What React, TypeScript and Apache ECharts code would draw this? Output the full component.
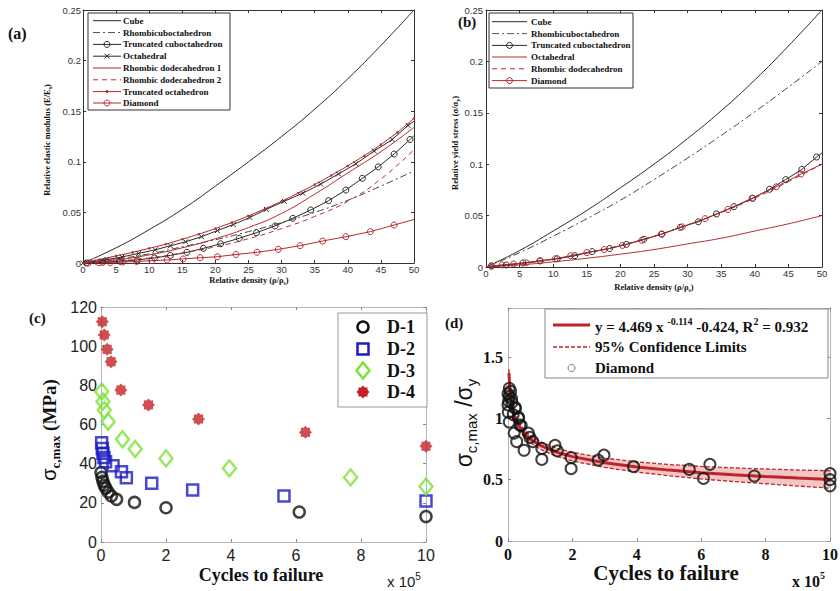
import React, { useEffect, useRef } from "react";
import * as echarts from "echarts";

const SERIF = '"Liberation Serif", "Times New Roman", serif';
const SANS = '"Liberation Sans", Arial, sans-serif';
const RED = "#b82a2e";
const BLACK = "#2a2a2a";

// ---------- Panel (a): relative elastic modulus ----------
const aGridX = [0, 5, 10, 15, 20, 25, 30, 35, 40, 45, 50];
const aCube = [0, 0.015, 0.033, 0.053, 0.076, 0.1, 0.125, 0.152, 0.182, 0.215, 0.25];
const aRhombicubo = [0, 0.004, 0.009, 0.016, 0.023, 0.031, 0.04, 0.05, 0.062, 0.076, 0.091];
const aRhombicDodec1 = [0, 0.003, 0.008, 0.015, 0.024, 0.035, 0.049, 0.068, 0.089, 0.11, 0.134];
const aRhombicDodec2 = [0, 0.002, 0.005, 0.01, 0.016, 0.024, 0.034, 0.046, 0.061, 0.083, 0.112];
const aTruncCuboX = [0.5, 3.0, 5.6, 8.2, 10.8, 13.2, 15.7, 18.2, 20.8, 23.6, 26.2, 29.0, 31.7, 34.4, 37.1, 39.7, 42.2, 44.6, 47.0, 49.4, 50];
const aTruncCuboY = [0, 0.0007, 0.0017, 0.003, 0.005, 0.0075, 0.0105, 0.0145, 0.019, 0.0244, 0.03, 0.0366, 0.0442, 0.0524, 0.0616, 0.0721, 0.0837, 0.095, 0.1077, 0.122, 0.126];
const aOctaX = [0, 1.5, 3.6, 5.9, 8.4, 10.9, 13.2, 15.5, 17.9, 20.3, 22.7, 25.2, 27.7, 30.4, 33.2, 35.9, 38.6, 41.2, 44.0, 46.7, 49.1, 50];
const aOctaY = [0, 0.001, 0.0035, 0.006, 0.0095, 0.013, 0.017, 0.021, 0.026, 0.032, 0.038, 0.045, 0.053, 0.061, 0.069, 0.078, 0.088, 0.098, 0.1107, 0.122, 0.136, 0.14];
const aTruncOctaX = [0, 2.5, 5, 7.5, 10, 12.5, 15, 17.5, 20, 22.5, 25, 27.5, 30, 32.5, 35, 37.5, 40, 42.5, 45, 47.5, 50];
const aTruncOctaY = [0, 0.0035, 0.007, 0.0105, 0.0145, 0.0185, 0.0235, 0.0285, 0.034, 0.04, 0.0465, 0.0535, 0.061, 0.069, 0.0775, 0.0865, 0.096, 0.106, 0.117, 0.129, 0.143];
const aDiamondX = [0.8, 2.4, 4.1, 6.0, 8.1, 10.4, 12.7, 15.1, 17.7, 20.3, 23.1, 26.3, 29.5, 32.8, 36.2, 39.7, 43.4, 47.0, 50];
const aDiamondY = [0, 0.0002, 0.0005, 0.001, 0.0015, 0.0023, 0.003, 0.004, 0.0052, 0.0062, 0.0084, 0.0106, 0.0135, 0.0171, 0.0217, 0.026, 0.031, 0.0375, 0.043];

// ---------- Panel (b): relative yield stress ----------
const bGridX = [0, 5, 10, 15, 20, 25, 30, 35, 40, 45, 50];
const bCube = [0, 0.016, 0.035, 0.055, 0.077, 0.1, 0.125, 0.152, 0.182, 0.215, 0.25];
const bRhombicubo = [0, 0.014, 0.03, 0.047, 0.065, 0.085, 0.106, 0.128, 0.151, 0.175, 0.2];
const bOcta = [0, 0.002, 0.005, 0.0085, 0.0125, 0.017, 0.0225, 0.028, 0.035, 0.042, 0.05];
const bRhombicDodec = [0, 0.003, 0.0075, 0.0135, 0.021, 0.03, 0.041, 0.053, 0.067, 0.083, 0.1];
const bTruncCuboX = [0.8, 3.0, 5.5, 8.0, 10.6, 13.2, 15.8, 18.4, 20.9, 23.5, 26.2, 28.9, 31.6, 34.3, 36.9, 39.7, 42.2, 44.6, 47.0, 49.2, 50];
const bTruncCuboY = [0.001, 0.002, 0.004, 0.006, 0.008, 0.011, 0.015, 0.018, 0.022, 0.027, 0.032, 0.0386, 0.044, 0.0516, 0.0587, 0.0668, 0.0756, 0.085, 0.095, 0.107, 0.111];
const bDiamondX = [0.8, 2.4, 4.1, 6.0, 8.1, 10.3, 12.6, 15.0, 17.6, 20.3, 23.2, 26.1, 29.2, 32.6, 36.0, 39.6, 43.2, 46.9, 50];
const bDiamondY = [0.001, 0.002, 0.003, 0.004, 0.006, 0.008, 0.011, 0.014, 0.017, 0.021, 0.026, 0.032, 0.039, 0.047, 0.056, 0.067, 0.078, 0.0905, 0.1];

// ---------- Panel (c): sigma_c,max vs cycles (x 1e5) ----------
const d1X = [0.0, 0.03, 0.06, 0.1, 0.15, 0.22, 0.32, 0.48, 1.03, 2.0, 6.1, 10];
const d1Y = [35.5, 33, 31, 29, 27.5, 25.5, 23.5, 21.8, 20.2, 17.5, 15.3, 13];
const d2X = [0.02, 0.04, 0.06, 0.09, 0.14, 0.37, 0.63, 0.78, 1.56, 2.82, 5.63, 10];
const d2Y = [50.7, 47.8, 45.3, 43.1, 41, 39, 35.9, 32.8, 30, 26.6, 23.5, 20.9];
const d3X = [0.02, 0.06, 0.1, 0.22, 0.66, 1.05, 2.0, 3.95, 7.68, 10];
const d3Y = [76.8, 71.7, 67.4, 61.4, 52.5, 47.5, 42.7, 37.6, 33, 28.3];
const d4X = [0.04, 0.1, 0.19, 0.31, 0.61, 1.46, 3.0, 6.29, 10];
const d4Y = [112.5, 105.7, 98.4, 92.1, 77.6, 70, 62.8, 56, 48.9];

// ---------- Panel (d): normalised stress vs cycles (x 1e5) ----------
const fitX = [0.03, 0.05, 0.1, 0.2, 0.3, 0.5, 0.7, 1, 1.5, 2, 3, 4, 5, 6, 7, 8, 9, 10];
const fitY = [1.37, 1.27, 1.14, 1.02, 0.956, 0.878, 0.829, 0.779, 0.725, 0.688, 0.638, 0.604, 0.578, 0.557, 0.54, 0.526, 0.513, 0.502];
const ciUpper = [1.4, 1.3, 1.17, 1.05, 0.985, 0.907, 0.858, 0.81, 0.758, 0.723, 0.676, 0.645, 0.624, 0.608, 0.596, 0.587, 0.579, 0.573];
const ciLower = [1.34, 1.24, 1.11, 0.99, 0.927, 0.849, 0.8, 0.748, 0.692, 0.653, 0.6, 0.562, 0.532, 0.506, 0.485, 0.467, 0.448, 0.431];
const diaX = [0.04, 0.0, 0.04, 0.08, 0.11, 0.02, 0.12, 0.22, 0.0, 0.01, 0.16, 0.23, 0.32, 0.33, 0.04, 0.37, 0.41, 0.19, 0.27, 0.63, 0.68, 0.77, 0.5, 1.05, 1.05, 1.46, 1.53, 1.96, 1.96, 2.8, 2.98, 3.9, 5.63, 6.07, 6.27, 7.65, 10, 10, 10];
const diaY = [1.245, 1.2, 1.18, 1.22, 1.16, 1.14, 1.13, 1.09, 1.11, 1.05, 1.03, 1.08, 1.01, 1.0, 0.97, 0.945, 0.94, 0.88, 0.81, 0.88, 0.845, 0.81, 0.74, 0.755, 0.665, 0.78, 0.735, 0.68, 0.59, 0.66, 0.7, 0.606, 0.584, 0.51, 0.625, 0.53, 0.55, 0.5, 0.45];

const pts = (xs: number[], ys: number[]) => xs.map((x, i) => [x, ys[i]]);
const ptsNoLastSymbol = (xs: number[], ys: number[]) =>
  xs.map((x, i) => (i === xs.length - 1 ? { value: [x, ys[i]], symbol: "none" } : [x, ys[i]]));

const xSymbol = "path://M0,0L10,10M0,10L10,0";
const starPts = (cx: number, cy: number, R: number, r: number) => {
  const out: number[][] = [];
  for (let i = 0; i < 16; i++) {
    const rad = i % 2 === 0 ? R : r;
    const a = (Math.PI * i) / 8 - Math.PI / 2;
    out.push([cx + rad * Math.cos(a), cy + rad * Math.sin(a)]);
  }
  return out;
};
const starSymbol = "path://M" + starPts(10, 10, 10, 7.5).map((p) => p[0].toFixed(2) + "," + p[1].toFixed(2)).join("L") + "Z";

function axisPair(gridIndex: number, dim: "x" | "y", min: number, max: number, interval: number, o: any) {
  const base = {
    type: "value",
    gridIndex,
    min,
    max,
    interval,
    splitLine: { show: false },
    axisLine: { show: true, onZero: false, lineStyle: { color: o.lineColor, width: 1 } },
    axisTick: { show: true, inside: true, length: 3, lineStyle: { color: o.tickColor } },
  };
  const main = {
    ...base,
    position: dim === "x" ? "bottom" : "left",
    axisLabel: {
      show: true,
      margin: o.margin,
      fontFamily: o.font,
      fontSize: o.fontSize,
      fontWeight: o.fontWeight || "normal",
      color: o.labelColor,
      formatter: o.formatter,
    },
  };
  const mirror = {
    ...base,
    position: dim === "x" ? "top" : "right",
    axisLabel: { show: false },
  };
  return [main, mirror];
}

const abAxis = { lineColor: "#333", tickColor: "#333", font: SANS, fontSize: 9.5, labelColor: "#333", margin: 1 };
const cAxis = { lineColor: "#b5b5b5", tickColor: "#888", font: SANS, fontSize: 16, labelColor: "#222", margin: 5 };
const dAxis = { lineColor: "#b5b5b5", tickColor: "#888", font: SERIF, fontSize: 16, fontWeight: "bold", labelColor: "#111", margin: 5 };

function lineSeries(name: string, idx: number, data: any[], color: string, extra: any = {}) {
  const { lineStyle: ls, ...rest } = extra;
  return {
    type: "line",
    name,
    xAxisIndex: idx,
    yAxisIndex: idx,
    data,
    showSymbol: false,
    symbol: "none",
    smooth: false,
    itemStyle: { color },
    z: 3,
    ...rest,
    lineStyle: { color, width: 1, type: "solid", ...(ls || {}) },
  };
}
const hollow = (color: string, w = 1) => ({ color: "rgba(0,0,0,0)", borderColor: color, borderWidth: w });

function T(x: number, y: number, text: string, o: any = {}) {
  return {
    type: "text",
    x,
    y,
    z: 100,
    rotation: o.rotation || 0,
    style: {
      text,
      fill: o.fill || "#111",
      fontFamily: o.font || SERIF,
      fontSize: o.size || 10,
      fontWeight: o.weight || "bold",
      align: o.align || "left",
      textAlign: o.align || "left",
      verticalAlign: o.va || "middle",
      textVerticalAlign: o.va || "middle",
      rich: o.rich,
    },
  };
}
const L = (x1: number, y1: number, x2: number, y2: number, stroke: string, lineWidth = 1, lineDash: any = null) => ({
  type: "line",
  z: 100,
  shape: { x1, y1, x2, y2 },
  style: { stroke, lineWidth, lineDash },
});
const C = (cx: number, cy: number, r: number, stroke: string, fill = "none", lineWidth = 1) => ({
  type: "circle",
  z: 100,
  shape: { cx, cy, r },
  style: { stroke, fill, lineWidth },
});

function legendAB(items: any[], boxX: number, boxY: number, boxW: number, boxH: number, rows: number[], lx1: number, lx2: number, tx: number) {
  const els: any[] = [
    { type: "rect", z: 99, shape: { x: boxX, y: boxY, width: boxW, height: boxH }, style: { fill: "#fff", stroke: "#333", lineWidth: 1 } },
  ];
  items.forEach((it, i) => {
    const y = rows[i];
    const mx = (lx1 + lx2) / 2;
    els.push(L(lx1, y, lx2, y, it.color, 1, it.dash));
    if (it.marker === "circle") els.push(C(mx, y, 3, it.color));
    if (it.marker === "x") {
      els.push(L(mx - 2.5, y - 2.5, mx + 2.5, y + 2.5, it.color));
      els.push(L(mx - 2.5, y + 2.5, mx + 2.5, y - 2.5, it.color));
    }
    if (it.marker === "dot") els.push(C(mx, y, 1.2, it.color, it.color));
    els.push(T(tx, y, it.name, { size: 9 }));
  });
  return els;
}

const subRich = (size: number, font = SERIF, weight = "bold") => ({
  n: { fontFamily: font, fontSize: size, fontWeight: weight, fill: "#111", lineHeight: size + 2, verticalAlign: "bottom" },
  s: { fontFamily: font, fontSize: Math.round(size * 0.7), fontWeight: weight, fill: "#111", lineHeight: size * 0.7, verticalAlign: "bottom", padding: [0, 0, -2, 0] },
});

function buildOption() {
  const xA: any[] = [];
  const yA: any[] = [];
  xA.push(...axisPair(0, "x", 0, 50, 5, abAxis));
  yA.push(...axisPair(0, "y", 0, 0.25, 0.05, { ...abAxis, margin: 2 }));
  xA.push(...axisPair(1, "x", 0, 50, 5, abAxis));
  yA.push(...axisPair(1, "y", 0, 0.25, 0.05, { ...abAxis, margin: 3 }));
  xA.push(...axisPair(2, "x", 0, 10, 2, cAxis));
  yA.push(...axisPair(2, "y", 0, 120, 20, { ...cAxis, margin: 4 }));
  xA.push(...axisPair(3, "x", 0, 10, 2, dAxis));
  yA.push(
    ...axisPair(3, "y", 0, 1.9, 0.5, {
      ...dAxis,
      formatter: (v: number) => (Math.abs(v * 2 - Math.round(v * 2)) < 1e-6 ? String(v) : ""),
    })
  );

  const series: any[] = [
    // (a)
    lineSeries("Cube", 0, pts(aGridX, aCube), BLACK, { smooth: true }),
    lineSeries("Rhombicuboctahedron", 0, pts(aGridX, aRhombicubo), "#444", { smooth: true, lineStyle: { type: [7, 3, 2, 3] } }),
    lineSeries("Truncated cuboctahedron", 0, ptsNoLastSymbol(aTruncCuboX, aTruncCuboY), BLACK, {
      showSymbol: true, symbol: "circle", symbolSize: 6, itemStyle: hollow(BLACK),
    }),
    lineSeries("Octahedral", 0, ptsNoLastSymbol(aOctaX, aOctaY), BLACK, {
      showSymbol: true, symbol: xSymbol, symbolSize: 5, itemStyle: hollow(BLACK),
    }),
    lineSeries("Rhombic dodecahedron 1", 0, pts(aGridX, aRhombicDodec1), RED, { smooth: true }),
    lineSeries("Rhombic dodecahedron 2", 0, pts(aGridX, aRhombicDodec2), RED, { smooth: true, lineStyle: { type: [5, 4] } }),
    lineSeries("Truncated octahedron", 0, pts(aTruncOctaX, aTruncOctaY), RED, {
      showSymbol: true, symbol: "circle", symbolSize: 2.5, itemStyle: { color: RED },
    }),
    lineSeries("Diamond", 0, ptsNoLastSymbol(aDiamondX, aDiamondY), RED, {
      showSymbol: true, symbol: "circle", symbolSize: 6, itemStyle: hollow(RED),
    }),
    // (b)
    lineSeries("Cube", 2, pts(bGridX, bCube), BLACK, { smooth: true }),
    lineSeries("Rhombicuboctahedron", 2, pts(bGridX, bRhombicubo), "#444", { smooth: true, lineStyle: { type: [7, 3, 2, 3] } }),
    lineSeries("Octahedral", 2, pts(bGridX, bOcta), RED, { smooth: true }),
    lineSeries("Rhombic dodecahedron", 2, pts(bGridX, bRhombicDodec), RED, { smooth: true, lineStyle: { type: [5, 4] } }),
    lineSeries("Truncated cuboctahedron", 2, ptsNoLastSymbol(bTruncCuboX, bTruncCuboY), BLACK, {
      showSymbol: true, symbol: "circle", symbolSize: 6, itemStyle: hollow(BLACK),
    }),
    lineSeries("Diamond", 2, ptsNoLastSymbol(bDiamondX, bDiamondY), RED, {
      showSymbol: true, symbol: "circle", symbolSize: 6, itemStyle: hollow(RED),
    }),
    // (c)
    { type: "scatter", name: "D-1", xAxisIndex: 4, yAxisIndex: 4, data: pts(d1X, d1Y), symbol: "circle", symbolSize: 11, itemStyle: hollow("#111", 2.5), z: 3 },
    { type: "scatter", name: "D-2", xAxisIndex: 4, yAxisIndex: 4, data: pts(d2X, d2Y), symbol: "rect", symbolSize: 11, itemStyle: hollow("#1c1cc4", 2.5), z: 3 },
    { type: "scatter", name: "D-3", xAxisIndex: 4, yAxisIndex: 4, data: pts(d3X, d3Y), symbol: "diamond", symbolSize: [13, 16], itemStyle: hollow("#7de23a", 2.5), z: 3 },
    { type: "scatter", name: "D-4", xAxisIndex: 4, yAxisIndex: 4, data: pts(d4X, d4Y), symbol: starSymbol, symbolSize: 13, itemStyle: { color: "#c42026" }, z: 3 },
    // (d) confidence band drawn through the axis scales
    {
      type: "custom",
      name: "95% band",
      xAxisIndex: 6,
      yAxisIndex: 6,
      data: [[fitX[0], ciUpper[0]]],
      z: 1,
      silent: true,
      renderItem: (_params: any, api: any) => {
        const up = fitX.map((x, i) => api.coord([x, ciUpper[i]]));
        const lo = fitX.map((x, i) => api.coord([x, ciLower[i]])).reverse();
        return { type: "polygon", shape: { points: up.concat(lo) }, style: { fill: "#f3c6c6", stroke: "none" } };
      },
    },
    { type: "line", name: "95% Confidence Limits", xAxisIndex: 6, yAxisIndex: 6, data: pts(fitX, ciUpper), showSymbol: false, symbol: "none", lineStyle: { color: RED, width: 1.3, type: [4, 2] }, z: 2 },
    { type: "line", name: "95% Confidence Limits (lower)", xAxisIndex: 6, yAxisIndex: 6, data: pts(fitX, ciLower), showSymbol: false, symbol: "none", lineStyle: { color: RED, width: 1.3, type: [4, 2] }, z: 2 },
    { type: "line", name: "Fit", xAxisIndex: 6, yAxisIndex: 6, data: pts(fitX, fitY), showSymbol: false, symbol: "none", lineStyle: { color: "#c0242a", width: 3 }, z: 2 },
    { type: "scatter", name: "Diamond", xAxisIndex: 6, yAxisIndex: 6, data: pts(diaX, diaY), symbol: "circle", symbolSize: 11, itemStyle: hollow("#111", 2), z: 3 },
  ];

  const graphic: any[] = [];
  // Panel labels
  graphic.push(T(8, 33, "(a)", { size: 16 }));
  graphic.push(T(458, 22, "(b)", { size: 15 }));
  graphic.push(T(29, 318, "(c)", { size: 15 }));
  graphic.push(T(445, 323, "(d)", { size: 15 }));

  // (a) legend
  graphic.push(
    ...legendAB(
      [
        { name: "Cube", color: BLACK },
        { name: "Rhombicuboctahedron", color: "#555", dash: [7, 3, 2, 3] },
        { name: "Truncated cuboctahedron", color: BLACK, marker: "circle" },
        { name: "Octahedral", color: BLACK, marker: "x" },
        { name: "Rhombic dodecahedron 1", color: RED },
        { name: "Rhombic dodecahedron 2", color: RED, dash: [5, 4] },
        { name: "Truncated octahedron", color: RED, marker: "dot" },
        { name: "Diamond", color: RED, marker: "circle" },
      ],
      88, 13, 142, 97,
      [20.7, 32.5, 44.4, 56.2, 68.0, 79.8, 91.6, 103.0],
      93, 121, 123
    )
  );
  // (b) legend
  graphic.push(
    ...legendAB(
      [
        { name: "Cube", color: BLACK },
        { name: "Rhombicuboctahedron", color: "#555", dash: [7, 3, 2, 3] },
        { name: "Truncated cuboctahedron", color: BLACK, marker: "circle" },
        { name: "Octahedral", color: RED },
        { name: "Rhombic dodecahedron", color: RED, dash: [5, 4] },
        { name: "Diamond", color: RED, marker: "circle" },
      ],
      489, 13, 144, 75,
      [21.7, 33.6, 45.4, 57.0, 68.8, 80.6],
      492, 527, 531
    )
  );

  // (a) axis titles
  const r9 = subRich(8.5);
  graphic.push(T(249, 279, "{n|Relative density (ρ/ρ}{s|s}{n|)}", { size: 8.5, align: "center", rich: r9 }));
  graphic.push(T(46, 140, "{n|Relative elastic modulus (E/E}{s|s}{n|)}", { size: 8.5, align: "center", rotation: Math.PI / 2, rich: r9 }));
  // (b) axis titles
  graphic.push(T(654, 286, "{n|Relative density (ρ/ρ}{s|s}{n|)}", { size: 8.5, align: "center", rich: r9 }));
  graphic.push(T(454, 143, "{n|Relative yield stress (σ/σ}{s|y}{n|)}", { size: 8.5, align: "center", rotation: Math.PI / 2, rich: r9 }));

  // (c) legend
  graphic.push({ type: "rect", z: 99, shape: { x: 338, y: 313, width: 89, height: 94 }, style: { fill: "#fff", stroke: "#999", lineWidth: 1 } });
  const cRows = [327, 349, 370.5, 392];
  graphic.push(C(363, cRows[0], 5.5, "#111", "none", 2.5));
  graphic.push({ type: "rect", z: 100, shape: { x: 357.5, y: cRows[1] - 5.5, width: 11, height: 11 }, style: { fill: "none", stroke: "#1c1cc4", lineWidth: 2.5 } });
  graphic.push({ type: "polygon", z: 100, shape: { points: [[363, cRows[2] - 8], [369.5, cRows[2]], [363, cRows[2] + 8], [356.5, cRows[2]]] }, style: { fill: "none", stroke: "#7de23a", lineWidth: 2.5 } });
  graphic.push({ type: "polygon", z: 100, shape: { points: starPts(363, cRows[3], 6.5, 5) }, style: { fill: "#c42026" } });
  ["D-1", "D-2", "D-3", "D-4"].forEach((t, i) => graphic.push(T(387, cRows[i], t, { size: 18 })));

  // (c) axis titles
  graphic.push(T(261, 575, "Cycles to failure", { size: 18, align: "center" }));
  graphic.push(
    T(47, 430, "{g|σ}{s|c,max}{n| (MPa)}", {
      size: 19, align: "center", rotation: Math.PI / 2,
      rich: {
        g: { fontFamily: SANS, fontSize: 20, fill: "#111", lineHeight: 24, verticalAlign: "bottom" },
        s: { fontFamily: SERIF, fontWeight: "bold", fontSize: 13, fill: "#111", lineHeight: 13, verticalAlign: "bottom", padding: [0, 0, -3, 0] },
        n: { fontFamily: SERIF, fontWeight: "bold", fontSize: 19, fill: "#111", lineHeight: 24, verticalAlign: "bottom" },
      },
    })
  );
  graphic.push(
    T(387, 580, "{n|x 10}{s|5}", {
      size: 15,
      rich: {
        n: { fontFamily: SANS, fontSize: 15, fill: "#222", lineHeight: 18, verticalAlign: "bottom" },
        s: { fontFamily: SANS, fontSize: 10, fill: "#222", lineHeight: 10, verticalAlign: "top" },
      },
    })
  );

  // (d) legend
  graphic.push({ type: "rect", z: 99, shape: { x: 545, y: 309, width: 283, height: 69 }, style: { fill: "#fff", stroke: "#888", lineWidth: 1 } });
  graphic.push(L(553, 325, 590, 325, "#c0242a", 3));
  graphic.push(L(553, 347, 590, 347, RED, 1.3, [4, 2]));
  graphic.push(C(571.5, 368, 3.5, "#777", "none", 1));
  graphic.push(
    T(595, 325, "{n|y = 4.469 x }{s|-0.114}{n| -0.424, R}{s|2}{n| = 0.932}", {
      size: 15,
      rich: {
        n: { fontFamily: SERIF, fontWeight: "bold", fontSize: 15, fill: "#111", lineHeight: 18, verticalAlign: "bottom" },
        s: { fontFamily: SERIF, fontWeight: "bold", fontSize: 10, fill: "#111", lineHeight: 10, verticalAlign: "top" },
      },
    })
  );
  graphic.push(T(595, 347, "95% Confidence Limits", { size: 15 }));
  graphic.push(T(595, 368, "Diamond", { size: 15 }));

  // (d) axis titles
  graphic.push(T(666, 573, "Cycles to failure", { size: 21, align: "center" }));
  graphic.push(
    T(462, 423, "{g|σ}{s|c,max}{g| /σ}{s|y}", {
      size: 22, align: "center", rotation: Math.PI / 2,
      rich: {
        g: { fontFamily: SANS, fontSize: 23, fill: "#111", lineHeight: 26, verticalAlign: "bottom" },
        s: { fontFamily: SANS, fontSize: 15, fill: "#111", lineHeight: 15, verticalAlign: "bottom", padding: [0, 0, -4, 0] },
      },
    })
  );
  graphic.push(
    T(792, 580, "{n|x 10}{s|5}", {
      size: 16,
      rich: {
        n: { fontFamily: SERIF, fontWeight: "bold", fontSize: 16, fill: "#111", lineHeight: 19, verticalAlign: "bottom" },
        s: { fontFamily: SERIF, fontWeight: "bold", fontSize: 10, fill: "#111", lineHeight: 10, verticalAlign: "top" },
      },
    })
  );

  return {
    animation: false,
    backgroundColor: "#ffffff",
    grid: [
      { left: 83, top: 10, width: 331, height: 253, containLabel: false, outerBoundsMode: "none" },
      { left: 486, top: 10, width: 336, height: 257, containLabel: false, outerBoundsMode: "none" },
      { left: 101, top: 307, width: 325, height: 235, containLabel: false, outerBoundsMode: "none" },
      { left: 508, top: 308, width: 322, height: 233, containLabel: false, outerBoundsMode: "none" },
    ],
    xAxis: xA,
    yAxis: yA,
    series,
    graphic: { elements: graphic },
  };
}

export default function App() {
  const ref = useRef<HTMLDivElement>(null);
  useEffect(() => {
    if (!ref.current) return;
    const chart = echarts.init(ref.current, null, { renderer: "svg" });
    chart.setOption(buildOption() as any);
    return () => chart.dispose();
  }, []);
  return <div ref={ref} style={{ position: "absolute", left: 0, top: 0, width: 840, height: 591 }} />;
}
